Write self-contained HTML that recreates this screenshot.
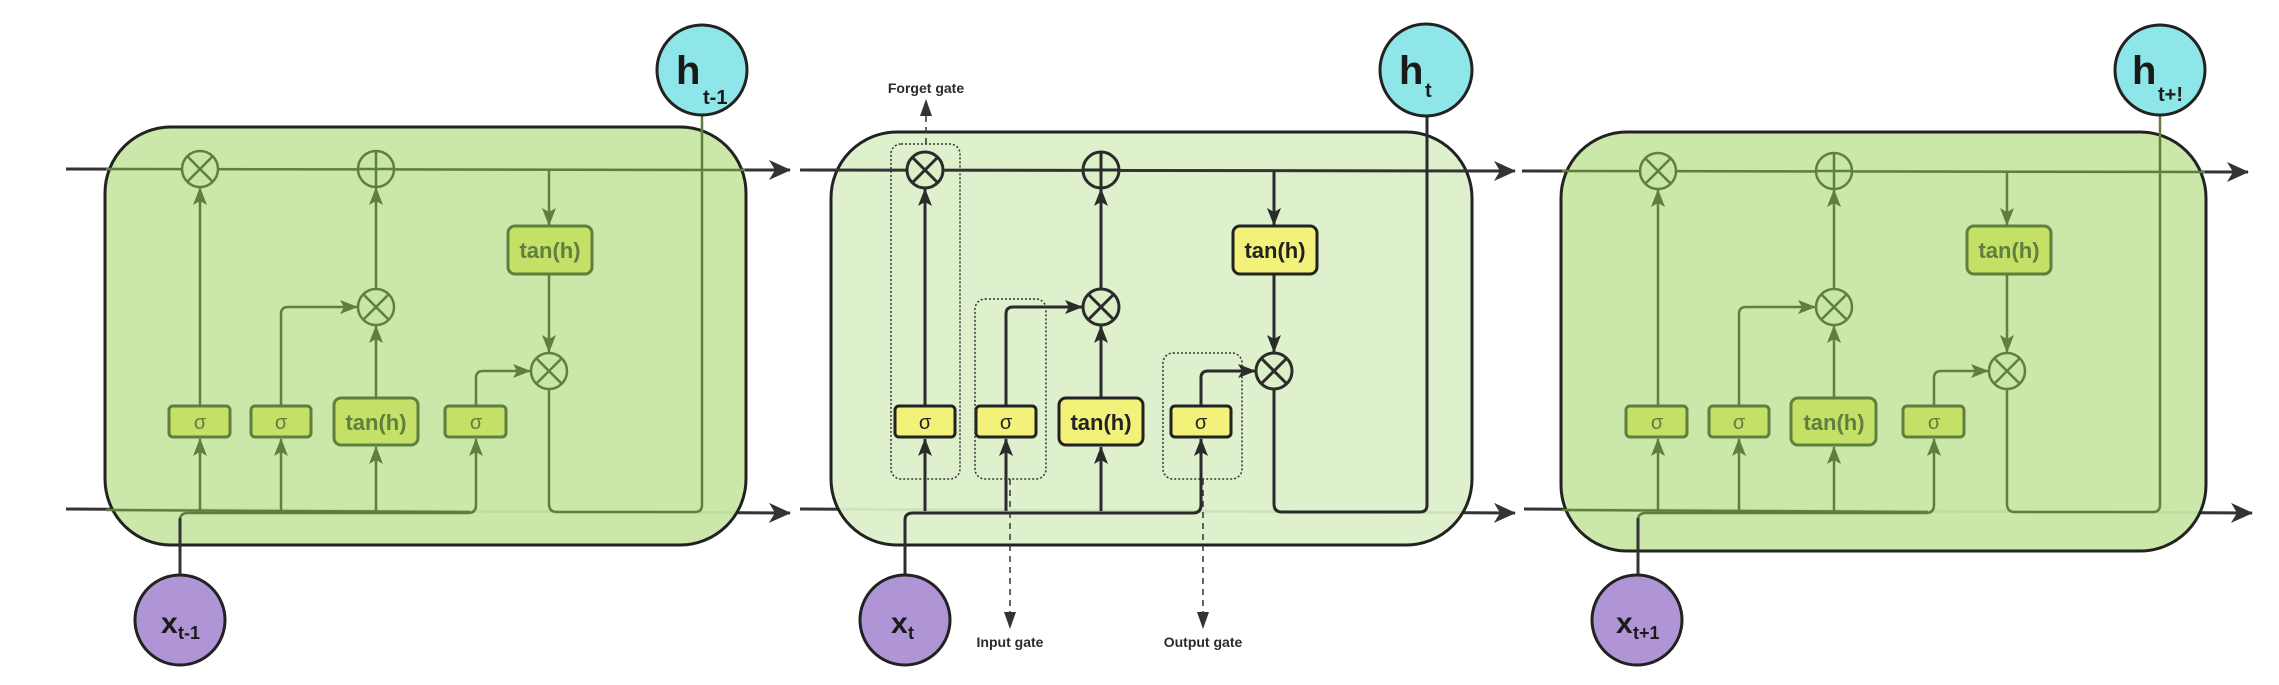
<!DOCTYPE html>
<html><head><meta charset="utf-8"><style>
html,body{margin:0;padding:0;background:#fff;}
svg{display:block;}
text{font-family:"Liberation Sans",sans-serif;font-weight:bold;}
text.s{font-weight:normal;}
</style></head><body>
<svg width="2279" height="685" viewBox="0 0 2279 685" xmlns="http://www.w3.org/2000/svg">
<defs>
<marker id="ag" viewBox="0 0 18 14" refX="17" refY="7" markerWidth="18" markerHeight="14" markerUnits="userSpaceOnUse" orient="auto"><path d="M0,0 L18,7 L0,14 L4,7 Z" fill="#5e7f3e"/></marker>
<marker id="ad" viewBox="0 0 18 14" refX="17" refY="7" markerWidth="18" markerHeight="14" markerUnits="userSpaceOnUse" orient="auto"><path d="M0,0 L18,7 L0,14 L4,7 Z" fill="#2b2b2b"/></marker>
<marker id="am" viewBox="0 0 22 20" refX="21" refY="10" markerWidth="22" markerHeight="20" markerUnits="userSpaceOnUse" orient="auto"><path d="M0,0 L22,10 L0,20 L6,10 Z" fill="#333"/></marker>
</defs>

<!-- main horizontal lines -->
<g stroke="#333" stroke-width="3" fill="none" marker-end="url(#am)">
<path d="M66,169 L790,170"/>
<path d="M66,509 L790,513"/>
<path d="M800,170 L1515,171"/>
<path d="M800,509 L1515,513"/>
<path d="M1522,171 L2248,172"/>
<path d="M1524,509 L2252,513"/>
</g>

<!-- CELL 1 -->
<g>
<rect x="105" y="127" width="641" height="418" rx="66" fill="#c8e6a5" fill-opacity="0.95" stroke="#222" stroke-width="3"/>
<path d="M106,169 L745,170" stroke="#5e7f3e" stroke-width="2.5"/>
<path d="M106,510 L470,512" stroke="#5e7f3e" stroke-width="2.5"/>
<g stroke="#5e7f3e" stroke-width="2.5" fill="none">
<path d="M200,511 V439" marker-end="url(#ag)"/>
<path d="M281,511 V439" marker-end="url(#ag)"/>
<path d="M376,511 V447" marker-end="url(#ag)"/>
<path d="M180,574 V520 Q180,513 188,513 H468 Q476,513 476,505 V439" marker-end="url(#ag)"/>
<path d="M200,406 V188" marker-end="url(#ag)"/>
<path d="M281,406 V314 Q281,307 288,307 H357" marker-end="url(#ag)"/>
<path d="M376,398 V326" marker-end="url(#ag)"/>
<path d="M376,289 V188" marker-end="url(#ag)"/>
<path d="M476,406 V378 Q476,371 483,371 H530" marker-end="url(#ag)"/>
<path d="M549,170 V225" marker-end="url(#ag)"/>
<path d="M549,274 V352" marker-end="url(#ag)"/>
<path d="M549,389 V504 Q549,512 557,512 H695 Q702,512 702,505 V116"/>
</g>
<g stroke="#5e7f3e" stroke-width="2.5" fill="#c8e6a5">
<circle cx="200" cy="169" r="18"/><path d="M187,156 L213,182 M213,156 L187,182"/>
<circle cx="376" cy="169" r="18"/><path d="M376,151 V187 M358,169 H394"/>
<circle cx="376" cy="307" r="18"/><path d="M363,294 L389,320 M389,294 L363,320"/>
<circle cx="549" cy="371" r="18"/><path d="M536,358 L562,384 M562,358 L536,384"/>
</g>
<g stroke="#5e7f3e" stroke-width="3" fill="#c5e067">
<rect x="508" y="226" width="84" height="48" rx="7"/>
<rect x="169" y="406" width="61" height="31" rx="4"/>
<rect x="251" y="406" width="60" height="31" rx="4"/>
<rect x="334" y="398" width="84" height="47" rx="7"/>
<rect x="445" y="406" width="61" height="31" rx="4"/>
</g>
<g fill="#5e7f3e" text-anchor="middle" font-size="22">
<text x="550" y="258">tan(h)</text>
<text x="376" y="430">tan(h)</text>
<text class="s" x="200" y="429" font-size="20">σ</text>
<text class="s" x="281" y="429" font-size="20">σ</text>
<text class="s" x="476" y="429" font-size="20">σ</text>
</g>
<circle cx="702" cy="70" r="45" fill="#8ee6e8" stroke="#222" stroke-width="3"/>
<text x="676" y="84" font-size="40" fill="#1a1a1a">h</text>
<text x="703" y="104" font-size="20" fill="#1a1a1a">t-1</text>
<circle cx="180" cy="620" r="45" fill="#b095d6" stroke="#222" stroke-width="3"/>
<text x="161" y="633" font-size="30" fill="#1a1a1a">x</text>
<text x="178" y="639" font-size="18" fill="#1a1a1a">t-1</text>
<path d="M180,574 V518" stroke="#333" stroke-width="3"/>
</g>

<!-- CELL 2 -->
<g transform="translate(725,0)">
<rect x="106" y="132" width="641" height="413" rx="66" fill="#dcf0c8" fill-opacity="0.93" stroke="#222" stroke-width="3"/>
<path d="M75,170 L790,171" stroke="#333" stroke-width="3"/>
<g stroke="#2b2b2b" stroke-width="3" fill="none">
<path d="M200,511 V439" marker-end="url(#ad)"/>
<path d="M281,511 V439" marker-end="url(#ad)"/>
<path d="M376,511 V447" marker-end="url(#ad)"/>
<path d="M180,574 V520 Q180,513 188,513 H468 Q476,513 476,505 V439" marker-end="url(#ad)"/>
<path d="M200,406 V189" marker-end="url(#ad)"/>
<path d="M281,406 V314 Q281,307 288,307 H357" marker-end="url(#ad)"/>
<path d="M376,398 V326" marker-end="url(#ad)"/>
<path d="M376,289 V189" marker-end="url(#ad)"/>
<path d="M476,406 V378 Q476,371 483,371 H530" marker-end="url(#ad)"/>
<path d="M549,171 V225" marker-end="url(#ad)"/>
<path d="M549,274 V352" marker-end="url(#ad)"/>
<path d="M549,389 V504 Q549,512 557,512 H695 Q702,512 702,505 V116"/>
</g>
<g stroke="#2b2b2b" stroke-width="3" fill="#dcf0c8">
<circle cx="200" cy="170" r="18"/><path d="M187,157 L213,183 M213,157 L187,183"/>
<circle cx="376" cy="170" r="18"/><path d="M376,152 V188 M358,170 H394"/>
<circle cx="376" cy="307" r="18"/><path d="M363,294 L389,320 M389,294 L363,320"/>
<circle cx="549" cy="371" r="18"/><path d="M536,358 L562,384 M562,358 L536,384"/>
</g>
<g stroke="#222" stroke-width="3" fill="#f2f27a">
<rect x="508" y="226" width="84" height="48" rx="7"/>
<rect x="170" y="406" width="60" height="31" rx="4"/>
<rect x="251" y="406" width="60" height="31" rx="4"/>
<rect x="334" y="398" width="84" height="47" rx="7"/>
<rect x="446" y="406" width="60" height="31" rx="4"/>
</g>
<g fill="#222" text-anchor="middle" font-size="22">
<text x="550" y="258">tan(h)</text>
<text x="376" y="430">tan(h)</text>
<text class="s" x="200" y="429" font-size="20">σ</text>
<text class="s" x="281" y="429" font-size="20">σ</text>
<text class="s" x="476" y="429" font-size="20">σ</text>
</g>
<g fill="none" stroke="#333" stroke-width="1.5" stroke-dasharray="2,2">
<rect x="166" y="144" width="69" height="335" rx="10"/>
<rect x="250" y="299" width="71" height="180" rx="10"/>
<rect x="438" y="353" width="79" height="126" rx="10"/>
</g>
<g stroke="#333" stroke-width="1.5" stroke-dasharray="6,5" fill="none">
<path d="M201,144 V112"/>
<path d="M285,479 V612"/>
<path d="M478,479 V612"/>
</g>
<g fill="#333">
<path d="M201,99 L195,116 L207,116 Z"/>
<path d="M285,629 L279,612 L291,612 Z"/>
<path d="M478,629 L472,612 L484,612 Z"/>
</g>
<g fill="#2b2b2b" text-anchor="middle" font-size="14">
<text x="201" y="93">Forget gate</text>
<text x="285" y="647">Input gate</text>
<text x="478" y="647">Output gate</text>
</g>
<circle cx="701" cy="70" r="46" fill="#8ee6e8" stroke="#222" stroke-width="3"/>
<text x="674" y="84" font-size="40" fill="#1a1a1a">h</text>
<text x="700" y="97" font-size="20" fill="#1a1a1a">t</text>
<circle cx="180" cy="620" r="45" fill="#b095d6" stroke="#222" stroke-width="3"/>
<text x="166" y="633" font-size="30" fill="#1a1a1a">x</text>
<text x="183" y="639" font-size="18" fill="#1a1a1a">t</text>
</g>

<!-- CELL 3 -->
<g transform="translate(1458,0)">
<rect x="103" y="132" width="645" height="419" rx="66" fill="#c8e6a5" fill-opacity="0.95" stroke="#222" stroke-width="3"/>
<path d="M104,171 L747,172" stroke="#5e7f3e" stroke-width="2.5"/>
<path d="M104,510 L470,512" stroke="#5e7f3e" stroke-width="2.5"/>
<g stroke="#5e7f3e" stroke-width="2.5" fill="none">
<path d="M200,511 V439" marker-end="url(#ag)"/>
<path d="M281,511 V439" marker-end="url(#ag)"/>
<path d="M376,511 V447" marker-end="url(#ag)"/>
<path d="M180,574 V520 Q180,513 188,513 H468 Q476,513 476,505 V439" marker-end="url(#ag)"/>
<path d="M200,406 V190" marker-end="url(#ag)"/>
<path d="M281,406 V314 Q281,307 288,307 H357" marker-end="url(#ag)"/>
<path d="M376,398 V326" marker-end="url(#ag)"/>
<path d="M376,289 V190" marker-end="url(#ag)"/>
<path d="M476,406 V378 Q476,371 483,371 H530" marker-end="url(#ag)"/>
<path d="M549,172 V225" marker-end="url(#ag)"/>
<path d="M549,274 V352" marker-end="url(#ag)"/>
<path d="M549,389 V504 Q549,512 557,512 H695 Q702,512 702,505 V116"/>
</g>
<g stroke="#5e7f3e" stroke-width="2.5" fill="#c8e6a5">
<circle cx="200" cy="171" r="18"/><path d="M187,158 L213,184 M213,158 L187,184"/>
<circle cx="376" cy="171" r="18"/><path d="M376,153 V189 M358,171 H394"/>
<circle cx="376" cy="307" r="18"/><path d="M363,294 L389,320 M389,294 L363,320"/>
<circle cx="549" cy="371" r="18"/><path d="M536,358 L562,384 M562,358 L536,384"/>
</g>
<g stroke="#5e7f3e" stroke-width="3" fill="#c5e067">
<rect x="509" y="226" width="84" height="48" rx="7"/>
<rect x="168" y="406" width="61" height="31" rx="4"/>
<rect x="251" y="406" width="60" height="31" rx="4"/>
<rect x="333" y="398" width="85" height="47" rx="7"/>
<rect x="445" y="406" width="61" height="31" rx="4"/>
</g>
<g fill="#5e7f3e" text-anchor="middle" font-size="22">
<text x="551" y="258">tan(h)</text>
<text x="376" y="430">tan(h)</text>
<text class="s" x="199" y="429" font-size="20">σ</text>
<text class="s" x="281" y="429" font-size="20">σ</text>
<text class="s" x="476" y="429" font-size="20">σ</text>
</g>
<circle cx="702" cy="70" r="45" fill="#8ee6e8" stroke="#222" stroke-width="3"/>
<text x="674" y="84" font-size="40" fill="#1a1a1a">h</text>
<text x="700" y="101" font-size="20" fill="#1a1a1a">t+!</text>
<circle cx="179" cy="620" r="45" fill="#b095d6" stroke="#222" stroke-width="3"/>
<text x="158" y="633" font-size="30" fill="#1a1a1a">x</text>
<text x="175" y="639" font-size="18" fill="#1a1a1a">t+1</text>
<path d="M180,574 V518" stroke="#333" stroke-width="3"/>
</g>
</svg>
</body></html>
